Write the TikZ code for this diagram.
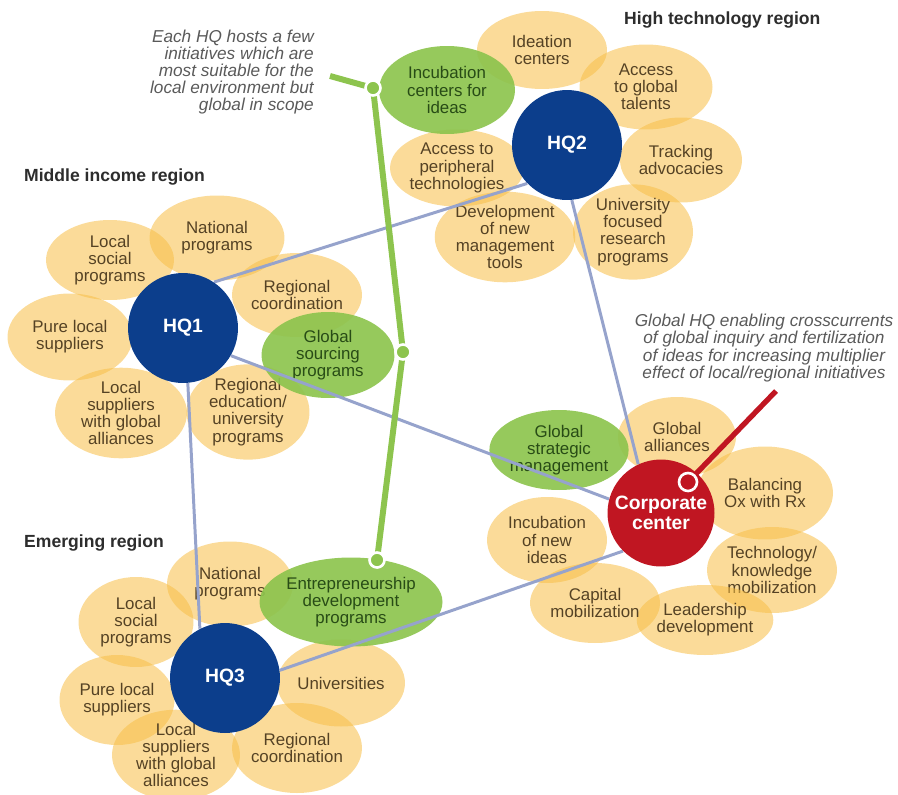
\documentclass[tikz,border=0pt]{standalone}
\usepackage{fontspec}
\setmainfont{Liberation Sans}
\usepackage{tikz}
\usetikzlibrary{shapes.geometric, positioning}
\definecolor{petalYellow}{RGB}{247,190,70}
\definecolor{leafGreen}{RGB}{141,196,78}
\definecolor{hqBlue}{RGB}{12,62,140}
\definecolor{corpRed}{RGB}{192,22,34}
\definecolor{linkGray}{RGB}{150,163,204}
\definecolor{petalText}{RGB}{85,66,36}
\definecolor{leafText}{RGB}{40,76,22}
\definecolor{noteGray}{RGB}{90,90,90}
\definecolor{regionText}{RGB}{45,45,45}
\pgfdeclarelayer{petals}
\pgfdeclarelayer{links}
\pgfsetlayers{petals,links,main}

\begin{document}
\begin{tikzpicture}[
    x=0.02cm, y=-0.02cm,
    petal/.style={ellipse, inner sep=0pt, fill=petalYellow, fill opacity=0.55,
                  text opacity=1, align=center, text=petalText,
                  minimum width=2.6cm, minimum height=1.72cm,
                  font=\fontsize{9.6}{9.8}\selectfont},
    leaf/.style={petal, fill=leafGreen, fill opacity=0.92, text=leafText},
    hub/.style={circle, inner sep=0pt, fill=hqBlue, minimum size=2.2cm,
                text=white, align=center, font=\bfseries\fontsize{11}{11.5}\selectfont},
    link/.style={line width=1.7pt, linkGray},
    stem/.style={line width=3.4pt, leafGreen},
    redstem/.style={line width=3pt, corpRed},
    joint/.style={circle, inner sep=0pt, minimum size=0.3cm, fill=leafGreen,
                  draw=white, line width=1.5pt},
    region/.style={anchor=west, text=regionText, font=\bfseries\fontsize{10}{12}\selectfont},
    note/.style={text=noteGray, font=\itshape\fontsize{9.8}{9.8}\selectfont}
]
\useasboundingbox (0,0) rectangle (898,794);

\begin{pgfonlayer}{petals}
% ---- high technology region ----
\node[petal, minimum width=2.6cm, minimum height=1.56cm] (p2a) at (542,50) {Ideation\\centers};
\node[petal, minimum width=2.66cm, minimum height=1.7cm] (p2b) at (646,87) {Access\\to global\\talents};
\node[petal, minimum width=2.44cm, minimum height=1.7cm] (p2c) at (681,160) {Tracking\\advocacies};
\node[petal, minimum width=2.4cm, minimum height=1.8cm] (p2d) at (633,232) {University\\focused\\research\\programs};
\node[petal, minimum width=2.7cm, minimum height=1.74cm] (p2e) at (505,237) {Development\\of new\\management\\tools};
\node[petal, minimum width=2.54cm, minimum height=1.54cm] (p2f) at (457,168) {Access to\\peripheral\\technologies};
\node[leaf, minimum width=2.72cm, minimum height=1.76cm] (l2) at (447,90) {Incubation\\centers for\\ideas};

% ---- middle income region ----
\node[petal, minimum width=2.7cm, minimum height=1.7cm] (p1a) at (217,238) {National\\programs};
\node[petal, minimum width=2.56cm, minimum height=1.6cm] (p1b) at (110,260) {Local\\social\\programs};
\node[petal, minimum width=2.56cm, minimum height=1.68cm] (p1c) at (297,295) {Regional\\coordination};
\node[petal, minimum width=2.5cm, minimum height=1.74cm] (p1d) at (70,337) {Pure local\\suppliers};
\node[petal, minimum width=2.64cm, minimum height=1.74cm] (p1e) at (121,413) {Local\\suppliers\\with global\\alliances};
\node[petal, minimum width=2.46cm, minimum height=1.8cm] (p1f) at (248,412) {Regional\\education/\\university\\programs};
\node[leaf, minimum width=2.66cm, minimum height=1.72cm] (l1) at (328,355) {Global\\sourcing\\programs};

% ---- emerging region ----
\node[petal, minimum width=2.52cm, minimum height=1.7cm] (p3a) at (230,584) {National\\programs};
\node[petal, minimum width=2.3cm, minimum height=1.8cm] (p3b) at (136,622) {Local\\social\\programs};
\node[petal, minimum width=2.3cm, minimum height=1.8cm] (p3c) at (117,700) {Pure local\\suppliers};
\node[petal, minimum width=2.56cm, minimum height=1.64cm] (p3d) at (176,755) {Local\\suppliers\\with global\\alliances};
\node[petal, minimum width=2.56cm, minimum height=1.8cm] (p3e) at (297,748) {Regional\\coordination};
\node[petal, minimum width=2.56cm, minimum height=1.74cm] (p3f) at (341,683) {Universities};
\node[leaf, minimum width=2.76cm, minimum height=1.78cm] (l3) at (351,602) {Entrepreneurship\\development\\programs};

% ---- corporate center ----
\node[petal, minimum width=2.36cm, minimum height=1.6cm] (pca) at (677,437) {Global\\alliances};
\node[petal, minimum width=2.72cm, minimum height=1.86cm] (pcb) at (765,493) {Balancing\\Ox with Rx};
\node[petal, minimum width=2.6cm, minimum height=1.72cm] (pcc) at (772,570) {Technology/\\knowledge\\mobilization};
\node[petal, minimum width=2.72cm, minimum height=1.4cm] (pcd) at (705,620) {Leadership\\development};
\node[petal, minimum width=2.6cm, minimum height=1.6cm] (pce) at (595,603) {Capital\\mobilization};
\node[petal, minimum width=2.4cm, minimum height=1.72cm] (pcf) at (547,540) {Incubation\\of new\\ideas};
\node[leaf, minimum width=2.44cm, minimum height=1.6cm] (lc) at (559,450) {Global\\strategic\\management};
\end{pgfonlayer}

% ---- hubs ----
\node[hub] (hq1) at (183,328) {HQ1};
\node[hub] (hq2) at (567,145) {HQ2};
\node[hub] (hq3) at (225,678) {HQ3};
\node[hub, fill=corpRed, minimum size=2.14cm] (corp) at (661,513) {Corporate\\center};

% ---- links between headquarters, under the hubs ----
\begin{pgfonlayer}{links}
\draw[link] (hq1.56) -- (hq2.224);
\draw[link] (hq2.-85) -- (corp.115);
\draw[link] (hq1.-30) -- (corp.165);
\draw[link] (hq1.-85) -- (hq3.117);
\draw[link] (hq3.8) -- (corp.225);
\end{pgfonlayer}

% ---- green stem through the local initiatives ----
\coordinate (noteTip) at (330,76);
\node[joint] (j1) at (373,88) {};
\node[joint] (j2) at (403,352) {};
\node[joint] (j3) at (377,560) {};
\begin{pgfonlayer}{links}
\draw[stem] (noteTip) -- (j1.center) -- (j2.center) -- (j3.center);
\end{pgfonlayer}

% ---- red stem into the corporate center ----
\coordinate (corpNote) at (776,391);
\node[joint, fill=corpRed, minimum size=0.36cm] (jc) at (688,482) {};
\begin{pgfonlayer}{links}
\draw[redstem] (corpNote) -- (jc.center);
\end{pgfonlayer}

% ---- region titles and notes ----
\node[region] (r2) at (618,20) {High technology region};
\node[region] (r1) at (18,177) {Middle income region};
\node[region] (r3) at (18,543) {Emerging region};
\node[note, anchor=east, align=right] (n1) at (320,72)
    {Each HQ hosts a few\\initiatives which are\\most suitable for the\\local environment but\\global in scope};
\node[note, align=center] (n2) at (764,348)
    {Global HQ enabling crosscurrents\\of global inquiry and fertilization\\of ideas for increasing multiplier\\effect of local/regional initiatives};
\end{tikzpicture}
\end{document}
